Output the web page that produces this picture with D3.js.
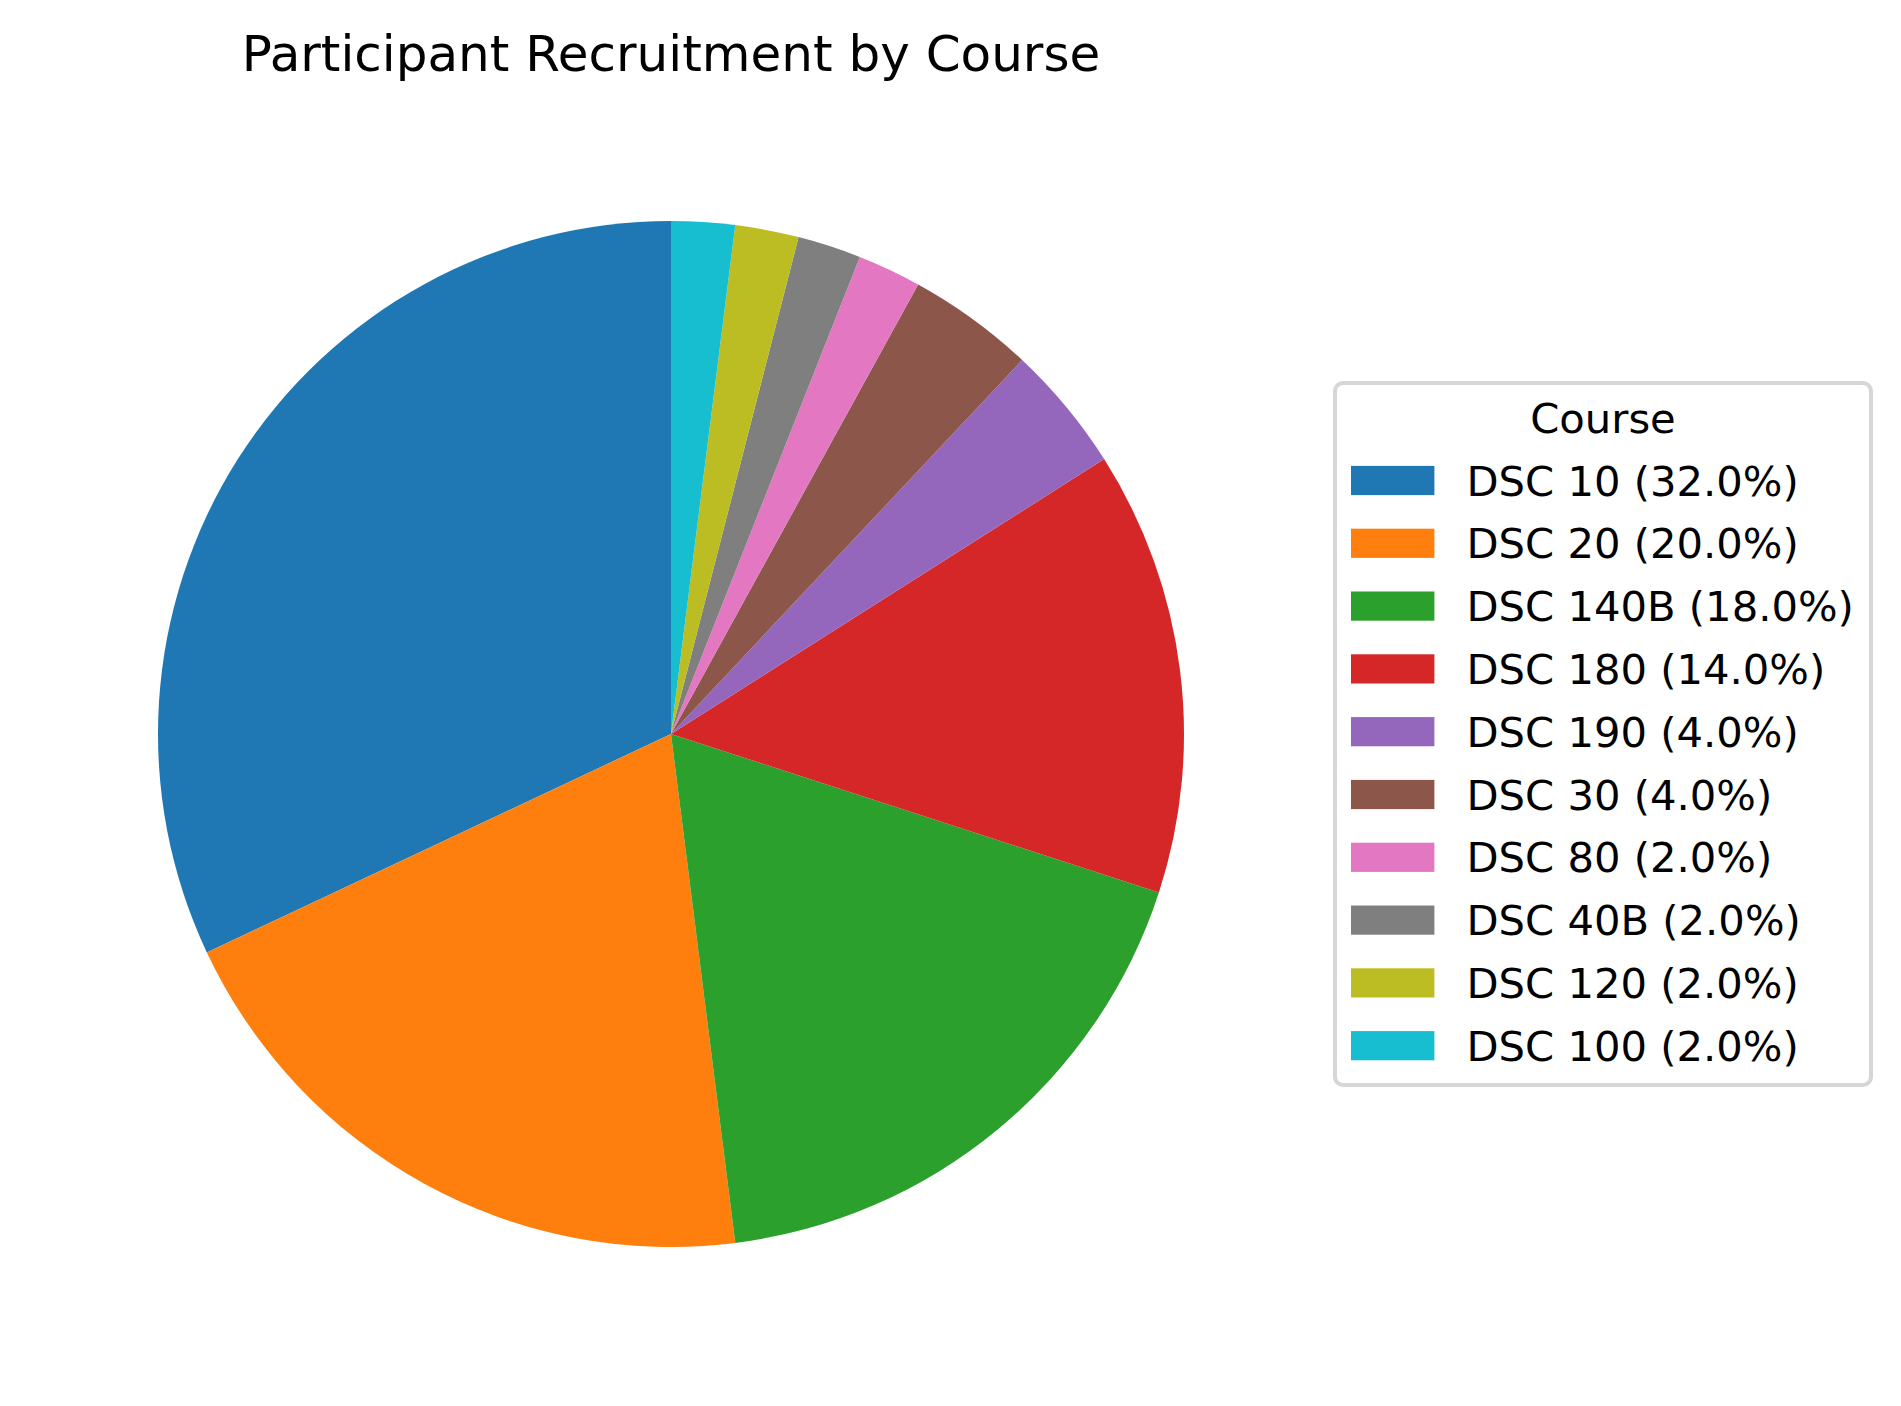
<!DOCTYPE html>
<html>
<head>
<meta charset="utf-8">
<title>Participant Recruitment by Course</title>
<script src="https://d3js.org/d3.v7.min.js"></script>
<style>
  body { margin: 0; background: #fff; }
  text { font-family: "DejaVu Sans", sans-serif; fill: #000; }
</style>
</head>
<body>
<script>
// data
const courses = ['DSC 10', 'DSC 20', 'DSC 140B', 'DSC 180', 'DSC 190', 'DSC 30', 'DSC 80', 'DSC 40B', 'DSC 120', 'DSC 100'];
const counts = [16, 10, 9, 7, 2, 2, 1, 1, 1, 1];
const colors = ['#1f77b4', '#ff7f0e', '#2ca02c', '#d62728', '#9467bd', '#8c564b', '#e377c2', '#7f7f7f', '#bcbd22', '#17becf'];

const width = 1901, height = 1406;
const cx = 671, cy = 734, radius = 513;

const svg = d3.select('body').append('svg')
    .attr('width', width).attr('height', height);

const total = d3.sum(counts);
const data = courses.map((c, i) => ({course: c, value: counts[i]}));
const color = d3.scaleOrdinal(courses, colors);

// matplotlib style: start at 12 o'clock, go counterclockwise
const pie = d3.pie().value(d => d.value).sort(null)
    .startAngle(0).endAngle(-2 * Math.PI);
const arc = d3.arc().innerRadius(0).outerRadius(radius);

svg.append('g').attr('transform', `translate(${cx},${cy})`)
  .selectAll('path')
  .data(pie(data))
  .join('path')
    .attr('d', arc)
    .attr('fill', d => color(d.data.course));

svg.append('text')
    .attr('x', cx).attr('y', 70.5)
    .attr('text-anchor', 'middle')
    .style('font-size', '50px')
    .text('Participant Recruitment by Course');

// legend
const fs = 41.7;
const lx = 1335, ly = 383, lw = 536, lh = 702;
const legend = svg.append('g');
legend.append('rect')
    .attr('x', lx).attr('y', ly).attr('width', lw).attr('height', lh)
    .attr('rx', 8).attr('ry', 8)
    .attr('fill', 'white').attr('fill-opacity', 0.8)
    .attr('stroke', '#d6d6d6').attr('stroke-width', 4);

legend.append('text')
    .attr('x', lx + lw / 2).attr('y', 432.5)
    .attr('text-anchor', 'middle')
    .style('font-size', fs + 'px')
    .text('Course');

const rowY = d3.scaleLinear().domain([0, 1]).range([480.5, 480.5 + 62.8]);
const fmt = d3.format('.1f');

const rows = legend.selectAll('g.row')
  .data(data)
  .join('g').attr('class', 'row')
    .attr('transform', (d, i) => `translate(0,${rowY(i)})`);

rows.append('rect')
    .attr('x', 1351).attr('y', -14.6)
    .attr('width', 83.4).attr('height', 29.2)
    .attr('fill', d => color(d.course));

rows.append('text')
    .attr('x', 1466.5).attr('y', 15)
    .style('font-size', fs + 'px')
    .text(d => `${d.course} (${fmt(d.value / total * 100)}%)`);
</script>
</body>
</html>
